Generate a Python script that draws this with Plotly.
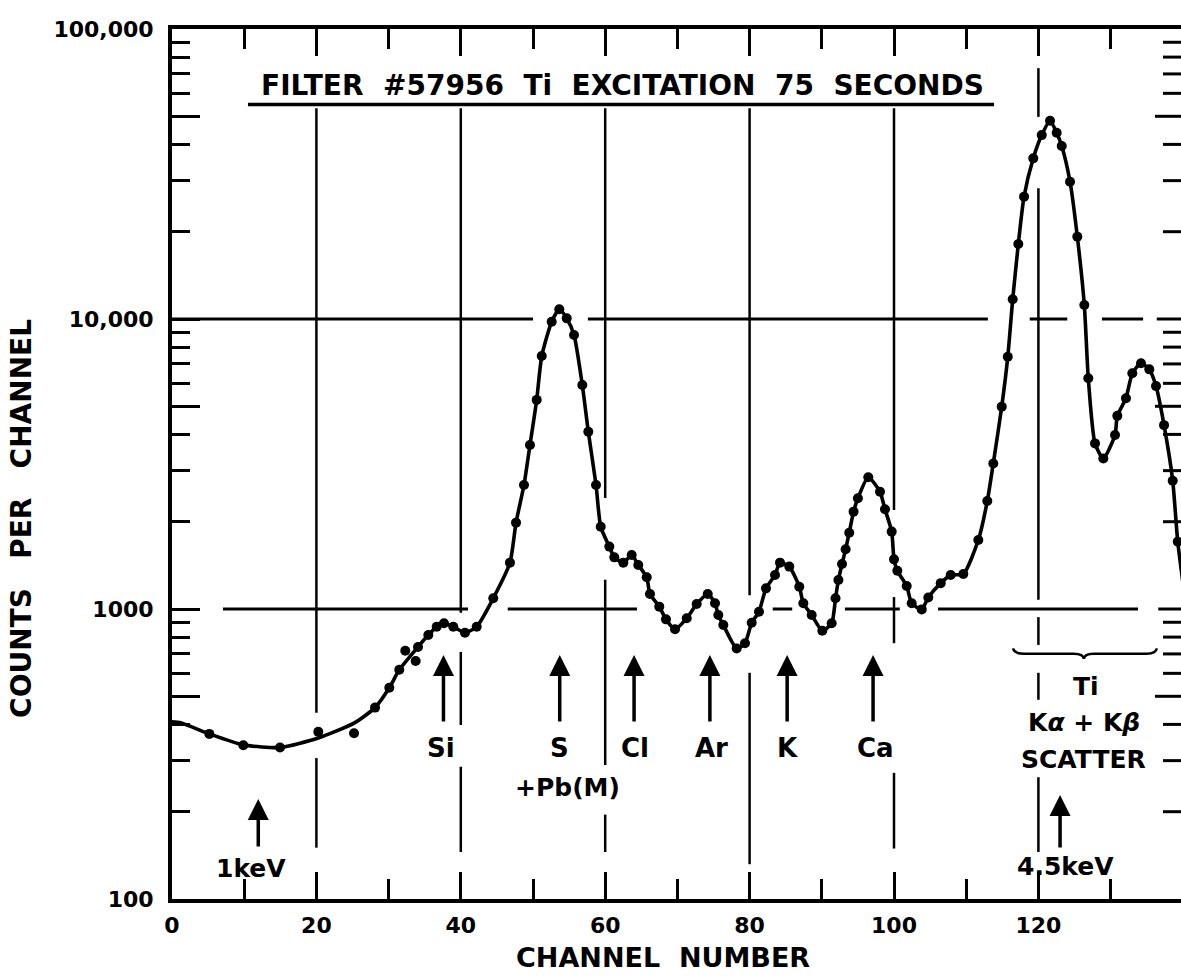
import plotly.graph_objects as go

FONT = "DejaVu Sans"

# ---------------- data ----------------
point_channels = [
    5.17, 9.88, 14.96, 20.26, 25.21, 28.12, 30.10, 31.48, 32.31, 33.75,
    34.07, 35.50, 36.66, 37.67, 38.96, 40.58, 42.20, 44.50, 46.81, 47.65,
    48.75, 49.58, 50.51, 51.21, 52.59, 53.64, 54.67, 55.68, 56.83, 57.66,
    58.73, 59.38, 60.57, 61.26, 62.51, 63.67, 64.58, 65.75, 66.20, 67.49,
    68.42, 69.67, 71.29, 72.67, 74.20, 75.21, 75.67, 76.36, 78.21, 79.36,
    80.29, 81.30, 82.27, 83.52, 84.21, 85.50, 86.88, 87.44, 88.60, 90.07,
    91.37, 91.90, 92.30, 92.80, 93.30, 93.80, 94.40, 95.00, 96.44, 98.06,
    98.75, 99.68, 100.00, 100.46, 101.76, 102.45, 103.84, 104.75, 106.47, 107.85,
    109.60, 111.68, 112.92, 113.75, 114.92, 115.76, 116.44, 117.22, 118.01, 119.29,
    120.46, 121.61, 122.53, 123.23, 124.38, 125.39, 126.36, 126.91, 127.84, 128.99,
    130.61, 130.93, 132.13, 133.01, 134.21, 135.36, 136.29, 137.40, 138.60, 139.30,
]
point_counts = [
    371, 339, 333, 377, 373, 457, 535, 617, 718, 662,
    740, 813, 869, 893, 869, 828, 869, 1089, 1445, 1985,
    2677, 3679, 5260, 7450, 9790, 10800, 10050, 8810, 5920, 4085,
    2677, 1922, 1641, 1507, 1445, 1535, 1419, 1286, 1127, 1019,
    921, 851, 929, 1040, 1127, 1047, 953, 881, 731, 762,
    897, 979, 1178, 1310, 1445, 1400, 1194, 1047, 953, 841,
    893, 1089, 1259, 1429, 1606, 1833, 2166, 2409, 2846, 2536,
    2208, 1849, 1483, 1355, 1200, 1047, 997, 1096, 1228, 1310,
    1320, 1729, 2357, 3177, 4986, 7413, 11690, 18150, 26420, 35810,
    43070, 48280, 43850, 39520, 29740, 19230, 11170, 6250, 3724, 3304,
    3981, 4634, 5333, 6501, 7034, 6704, 5870, 4305, 2770, 1707,
]
# points that lie off the smooth fitted curve
off_curve_channels = [5.17, 9.88, 14.96, 20.26, 25.21, 32.31, 33.75]

# smooth curve knots in the low-energy region and beyond the right edge
curve_left_channels = [0.0, 1.2, 5.17, 9.88, 14.96, 20.26, 25.21]
curve_left_counts = [408, 405, 371, 340, 333, 359, 404]
curve_tail_channels = [140.5]
curve_tail_counts = [1000]

x_tick_values = [0, 20, 40, 60, 80, 100, 120]
x_tick_labels = ["0", "20", "40", "60", "80", "100", "120"]
x_minor_values = [10, 30, 50, 70, 90, 110, 130]
y_tick_values = [100, 500, 1000, 5000, 10000, 50000, 100000]
y_tick_labels = ["100", "", "1000", "", "10,000", "", "100,000"]
y_minor_values = [m * d for d in (100, 1000, 10000) for m in (2, 3, 4, 6, 7, 8, 9)]

# element markers: label, label channel, arrow channel
element_labels = [
    ("Si", 37.3, 37.6),
    ("S", 53.7, 53.7),
    ("Cl", 64.1, 64.0),
    ("Ar", 74.7, 74.5),
    ("K", 85.3, 85.2),
    ("Ca", 97.4, 97.1),
]

# ---------------- build curve ----------------
curve_x = list(curve_left_channels)
curve_y = list(curve_left_counts)
for c, v in zip(point_channels, point_counts):
    if c in off_curve_channels:
        continue
    curve_x.append(c)
    curve_y.append(v)
curve_x += curve_tail_channels
curve_y += curve_tail_counts

fig = go.Figure()
fig.add_trace(go.Scatter(
    x=curve_x, y=curve_y, mode="lines",
    line=dict(color="black", width=3.6, shape="spline", smoothing=0.6),
    hoverinfo="skip", showlegend=False, cliponaxis=True,
))
fig.add_trace(go.Scatter(
    x=point_channels, y=point_counts, mode="markers",
    marker=dict(color="black", size=10, line=dict(width=0)),
    showlegend=False, cliponaxis=True,
))

# ---------------- broken grid lines (decoration) ----------------
shapes = []
gcol = "black"
vertical_segments = {
    20: [(0.909, 0.214), (0.162, 0.059)],
    40: [(0.909, 0.329), (0.284, 0.200), (0.152, 0.054)],
    60: [(0.909, 0.461), (0.367, 0.154), (0.097, 0.054)],
    80: [(0.909, 0.349), (0.260, 0.040)],
    100: [(0.909, 0.447), (0.347, 0.294), (0.145, 0.058)],
    120: [(0.955, 0.899), (0.817, 0.344), (0.324, 0.292), (0.260, 0.229), (0.140, 0.054)],
}
for xc, segs in vertical_segments.items():
    for y0, y1 in segs:
        shapes.append(dict(type="line", xref="x", yref="paper", x0=xc, x1=xc, y0=y0, y1=y1,
                           line=dict(color=gcol, width=2.5), layer="below"))
horizontal_segments = {
    2 / 3: [(0, 50.0), (57.6, 113.0), (118.8, 124.0), (128.8, 134.5), (136.4, 139.8)],
    1 / 3: [(7.06, 41.0), (46.5, 64.4), (83.2, 85.9), (93.2, 100.8), (106.1, 133.8), (136.6, 139.8)],
}
for yp, segs in horizontal_segments.items():
    for x0, x1 in segs:
        shapes.append(dict(type="line", xref="x", yref="paper", x0=x0, x1=x1, y0=yp, y1=yp,
                           line=dict(color=gcol, width=3), layer="below"))

# right-hand inward ticks (the right axis itself is outside the picture)
for v in y_minor_values:
    shapes.append(dict(type="line", xref="paper", yref="y", x0=1.0, x1=1.0 - 18 / 1009, y0=v, y1=v,
                       line=dict(color="black", width=3)))
for v in (500, 5000, 50000):
    shapes.append(dict(type="line", xref="paper", yref="y", x0=1.0, x1=1.0 - 26 / 1009, y0=v, y1=v,
                       line=dict(color="black", width=3)))

# title underline
shapes.append(dict(type="line", xref="paper", yref="paper", x0=0.0753, x1=0.8147, y0=0.9132, y1=0.9132,
                   line=dict(color="black", width=3.5)))

# brace over Ti scatter peaks
brace = ("M 116.5,0.288 Q 116.6,0.282 118.0,0.282 L 124.9,0.282 "
         "Q 126.2,0.282 126.3,0.276 Q 126.4,0.282 127.6,0.282 L 135.0,0.282 "
         "Q 136.3,0.282 136.4,0.288")
shapes.append(dict(type="path", xref="x", yref="paper", path=brace, line=dict(color="black", width=2.5)))

# ---------------- annotations ----------------
def bold(size):
    return dict(family=FONT, size=size, color="black", weight="bold")

SP = "\u00a0\u00a0"
ann = []
ann.append(dict(xref="paper", yref="paper", x=0.4465, y=0.9356,
                text=SP.join(["FILTER", "#57956", "Ti", "EXCITATION", "75", "SECONDS"]),
                showarrow=False, font=bold(28), xanchor="center", yanchor="middle"))
for name, xl, xa in element_labels:
    ann.append(dict(xref="x", yref="paper", x=xl, y=0.1736, text=name, showarrow=False,
                    font=bold(26), xanchor="center", yanchor="middle"))
    ann.append(dict(xref="x", yref="paper", x=xa, y=0.2805, text="", showarrow=True,
                    ax=0, ay=68, arrowhead=2, arrowsize=1.2, arrowwidth=3.5, arrowcolor="black",
                    standoff=0))
ann.append(dict(xref="x", yref="paper", x=54.8, y=0.1276, text="+Pb(M)", showarrow=False,
                font=bold(25), xanchor="center", yanchor="middle"))
ann.append(dict(xref="x", yref="paper", x=11.0, y=0.0356, text="1keV", showarrow=False,
                font=bold(25), xanchor="center", yanchor="middle"))
ann.append(dict(xref="x", yref="paper", x=11.95, y=0.1149, text="", showarrow=True,
                ax=0, ay=49, arrowhead=2, arrowsize=1.2, arrowwidth=3.5, arrowcolor="black", standoff=0))
ann.append(dict(xref="x", yref="paper", x=123.8, y=0.0368, text="4.5keV", showarrow=False,
                font=bold(25), xanchor="center", yanchor="middle"))
ann.append(dict(xref="x", yref="paper", x=123.0, y=0.1195, text="", showarrow=True,
                ax=0, ay=54, arrowhead=2, arrowsize=1.2, arrowwidth=3.5, arrowcolor="black", standoff=0))
ann.append(dict(xref="x", yref="paper", x=126.6, y=0.2437, text="Ti", showarrow=False,
                font=bold(25), xanchor="center", yanchor="middle"))
ann.append(dict(xref="x", yref="paper", x=126.3, y=0.2023, text="K<i>α</i> + K<i>β</i>", showarrow=False,
                font=bold(25), xanchor="center", yanchor="middle"))
ann.append(dict(xref="x", yref="paper", x=126.2, y=0.1598, text="SCATTER", showarrow=False,
                font=bold(25), xanchor="center", yanchor="middle"))
# axis titles
ann.append(dict(xref="paper", yref="paper", x=0.4866, y=-0.0678, text="CHANNEL" + SP + "NUMBER",
                showarrow=False, font=bold(27), xanchor="center", yanchor="middle"))
SP3 = "\u00a0\u00a0\u00a0"
ann.append(dict(xref="paper", yref="paper", x=-0.1487, y=0.438,
                text=SP3.join(["COUNTS", "PER", "CHANNEL"]),
                showarrow=False, font=bold(28), textangle=-90, xanchor="center", yanchor="middle"))

fig.update_layout(
    width=1181, height=978,
    margin=dict(l=172, r=0, t=29, b=79, pad=0),
    paper_bgcolor="white", plot_bgcolor="white",
    showlegend=False,
    shapes=shapes, annotations=ann,
    xaxis=dict(
        range=[0, 139.75], showgrid=False, zeroline=False,
        showline=True, linecolor="black", linewidth=4, mirror="allticks",
        ticks="inside", ticklen=27, tickwidth=3, tickcolor="black",
        tickvals=x_tick_values, ticktext=x_tick_labels,
        tickfont=bold(22), ticklabelstandoff=4,
        minor=dict(tickvals=x_minor_values, ticks="inside", ticklen=20, tickwidth=3,
                   tickcolor="black", showgrid=False),
    ),
    yaxis=dict(
        type="log", range=[2, 5], showgrid=False, zeroline=False,
        showline=True, linecolor="black", linewidth=4, mirror=False,
        ticks="inside", ticklen=28, tickwidth=3, tickcolor="black",
        tickvals=y_tick_values, ticktext=y_tick_labels,
        tickfont=bold(22), ticklabelstandoff=10,
        minor=dict(tickvals=y_minor_values, ticks="inside", ticklen=18, tickwidth=3,
                   tickcolor="black", showgrid=False),
    ),
)

fig.write_html("out.html")
